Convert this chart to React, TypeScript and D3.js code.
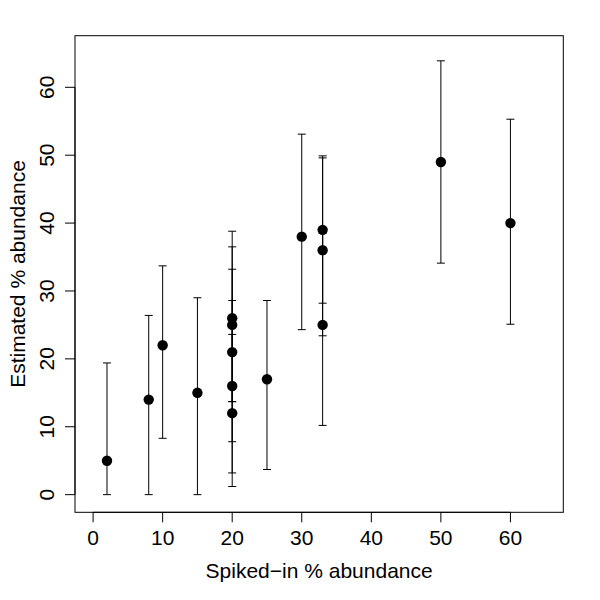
import { scaleLinear } from 'd3'

// Spiked-in vs estimated abundance, with error bars (R base-graphics look).
const spiked = [2, 8, 10, 15, 20, 20, 20, 20, 20, 25, 30, 33, 33, 33, 50, 60]
const estimated = [5, 14, 22, 15, 26, 25, 21, 16, 12, 17, 38, 39, 36, 25, 49, 40]
const lower = [0, 0, 8.3, 0, 13.7, 13.7, 7.8, 3.2, 1.2, 3.7, 24.3, 28.2, 23.4, 10.2, 34.1, 25.1]
const upper = [19.4, 26.4, 33.7, 29.0, 38.8, 36.5, 33.2, 28.6, 23.6, 28.6, 53.1, 49.9, 49.6, 38.5, 63.9, 55.3]
const xTicks = [0, 10, 20, 30, 40, 50, 60]
const yTicks = [0, 10, 20, 30, 40, 50, 60]

const FONT = '"Liberation Sans", Arial, Helvetica, sans-serif'

export default function App() {
  const box = { left: 75, right: 563.3, top: 35.7, bottom: 512.3 }
  // R pads the 0..65 limits by 4% on each side
  const x = scaleLinear().domain([-2.6, 67.6]).range([box.left, box.right])
  const y = scaleLinear().domain([-2.6, 67.6]).range([box.bottom, box.top])
  const cap = 4
  const tick = 10

  return (
    <svg
      width={600}
      height={600}
      viewBox="0 0 600 600"
      style={{ position: 'absolute', left: 0, top: 0, background: '#fff' }}
      fontFamily={FONT}
    >
      <rect
        x={box.left}
        y={box.top}
        width={box.right - box.left}
        height={box.bottom - box.top}
        fill="none"
        stroke="#000"
        strokeWidth={1}
      />

      {/* x axis */}
      <line x1={x(0)} x2={x(60)} y1={box.bottom} y2={box.bottom} stroke="#000" />
      {xTicks.map((t) => (
        <g key={`x${t}`}>
          <line x1={x(t)} x2={x(t)} y1={box.bottom} y2={box.bottom + tick} stroke="#000" />
          <text x={x(t)} y={545} fontSize={21} textAnchor="middle" fill="#000">
            {t}
          </text>
        </g>
      ))}
      <text x={(box.left + box.right) / 2} y={578} fontSize={21} textAnchor="middle" fill="#000">
        Spiked−in % abundance
      </text>

      {/* y axis */}
      <line x1={box.left} x2={box.left} y1={y(0)} y2={y(60)} stroke="#000" />
      {yTicks.map((t) => (
        <g key={`y${t}`}>
          <line x1={box.left - tick} x2={box.left} y1={y(t)} y2={y(t)} stroke="#000" />
          <text
            transform={`translate(54,${y(t)}) rotate(-90)`}
            fontSize={21}
            textAnchor="middle"
            fill="#000"
          >
            {t}
          </text>
        </g>
      ))}
      <text
        transform={`translate(25,${(box.top + box.bottom) / 2}) rotate(-90)`}
        fontSize={21}
        textAnchor="middle"
        fill="#000"
      >
        Estimated % abundance
      </text>

      {/* error bars */}
      {spiked.map((s, i) => (
        <g key={`e${i}`} stroke="#000" strokeWidth={1}>
          <line x1={x(s)} x2={x(s)} y1={y(lower[i])} y2={y(upper[i])} />
          <line x1={x(s) - cap} x2={x(s) + cap} y1={y(lower[i])} y2={y(lower[i])} />
          <line x1={x(s) - cap} x2={x(s) + cap} y1={y(upper[i])} y2={y(upper[i])} />
        </g>
      ))}

      {/* points */}
      {spiked.map((s, i) => (
        <circle key={`p${i}`} cx={x(s)} cy={y(estimated[i])} r={5.2} fill="#000" />
      ))}
    </svg>
  )
}
